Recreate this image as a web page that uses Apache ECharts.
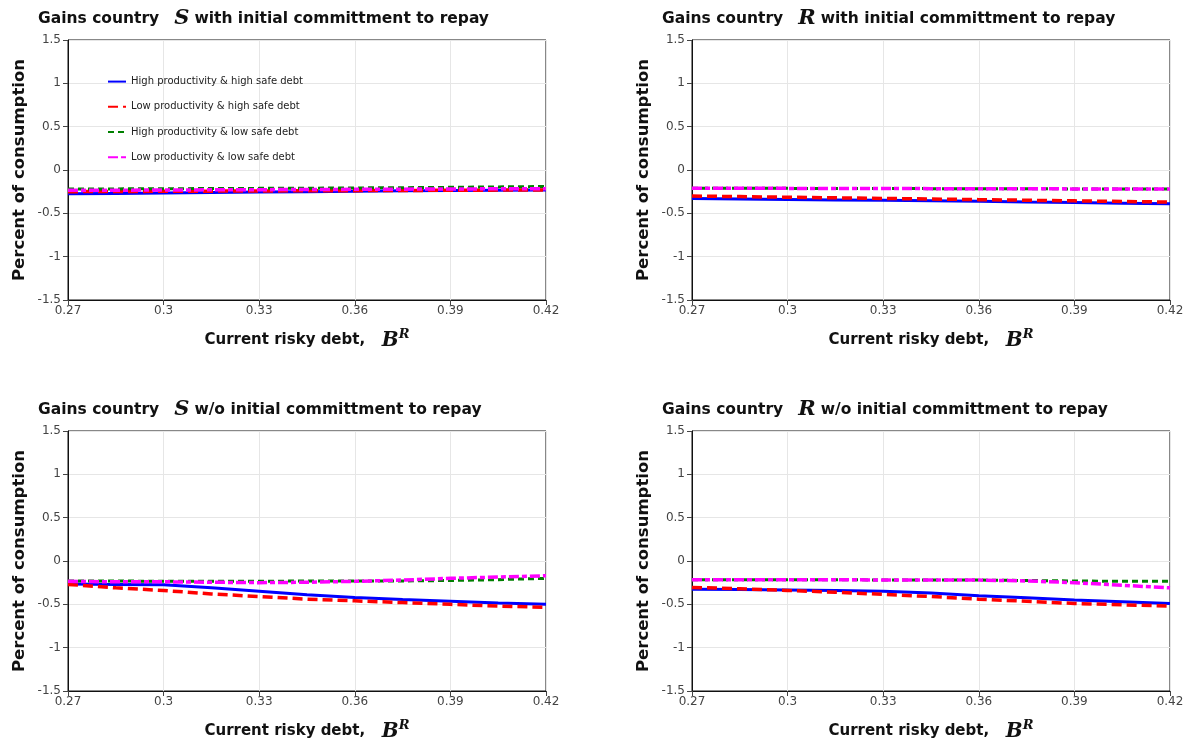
<!DOCTYPE html>
<html><head><meta charset="utf-8">
<script src="https://cdn.jsdelivr.net/npm/echarts@6/dist/echarts.min.js"></script>
<style>html,body{margin:0;padding:0;background:#fff}#c{width:1196px;height:746px}</style>
</head><body><div id="c"></div>
<script>
// ---- data ----
const xValues = [0.27, 0.285, 0.30, 0.315, 0.33, 0.345, 0.36, 0.375, 0.39, 0.405, 0.42];
const seriesNames = ['High productivity & high safe debt','Low productivity & high safe debt','High productivity & low safe debt','Low productivity & low safe debt'];
const xTicks = [0.27, 0.30, 0.33, 0.36, 0.39, 0.42];
const yTicks = [-1.5, -1, -0.5, 0, 0.5, 1, 1.5];

// Panel 1: S with initial commitment
const sWith_highProdHighSafe = [-0.275,-0.27,-0.265,-0.26,-0.255,-0.25,-0.245,-0.24,-0.237,-0.233,-0.23];
const sWith_lowProdHighSafe  = [-0.25,-0.248,-0.246,-0.244,-0.242,-0.24,-0.238,-0.236,-0.234,-0.232,-0.23];
const sWith_highProdLowSafe  = [-0.22,-0.218,-0.216,-0.214,-0.212,-0.21,-0.207,-0.204,-0.2,-0.195,-0.19];
const sWith_lowProdLowSafe   = [-0.235,-0.233,-0.231,-0.229,-0.227,-0.225,-0.223,-0.221,-0.219,-0.217,-0.215];
// Panel 2: R with initial commitment
const rWith_highProdHighSafe = [-0.33,-0.335,-0.34,-0.345,-0.35,-0.355,-0.36,-0.368,-0.375,-0.383,-0.39];
const rWith_lowProdHighSafe  = [-0.30,-0.307,-0.314,-0.321,-0.328,-0.335,-0.342,-0.349,-0.356,-0.363,-0.37];
const rWith_highProdLowSafe  = [-0.21,-0.211,-0.212,-0.213,-0.214,-0.215,-0.216,-0.217,-0.218,-0.219,-0.22];
const rWith_lowProdLowSafe   = [-0.21,-0.211,-0.212,-0.213,-0.214,-0.215,-0.216,-0.217,-0.218,-0.219,-0.22];
// Panel 3: S without initial commitment
const sWo_highProdHighSafe = [-0.265,-0.27,-0.275,-0.31,-0.35,-0.39,-0.42,-0.445,-0.465,-0.485,-0.50];
const sWo_lowProdHighSafe  = [-0.27,-0.31,-0.34,-0.38,-0.41,-0.44,-0.46,-0.48,-0.50,-0.52,-0.535];
const sWo_highProdLowSafe  = [-0.23,-0.23,-0.235,-0.235,-0.235,-0.23,-0.23,-0.23,-0.225,-0.215,-0.20];
const sWo_lowProdLowSafe   = [-0.235,-0.24,-0.24,-0.245,-0.25,-0.245,-0.235,-0.22,-0.20,-0.185,-0.17];
// Panel 4: R without initial commitment
const rWo_highProdHighSafe = [-0.325,-0.33,-0.335,-0.34,-0.35,-0.37,-0.40,-0.425,-0.45,-0.47,-0.49];
const rWo_lowProdHighSafe  = [-0.305,-0.32,-0.34,-0.36,-0.385,-0.41,-0.44,-0.465,-0.49,-0.505,-0.52];
const rWo_highProdLowSafe  = [-0.215,-0.215,-0.215,-0.215,-0.22,-0.22,-0.22,-0.225,-0.23,-0.235,-0.235];
const rWo_lowProdLowSafe   = [-0.215,-0.215,-0.215,-0.215,-0.22,-0.22,-0.22,-0.23,-0.25,-0.28,-0.31];

const panels = [
  {country:'S', suffix:'with initial committment to repay', data:[sWith_highProdHighSafe,sWith_lowProdHighSafe,sWith_highProdLowSafe,sWith_lowProdLowSafe]},
  {country:'R', suffix:'with initial committment to repay', data:[rWith_highProdHighSafe,rWith_lowProdHighSafe,rWith_highProdLowSafe,rWith_lowProdLowSafe]},
  {country:'S', suffix:'w/o initial committment to repay', data:[sWo_highProdHighSafe,sWo_lowProdHighSafe,sWo_highProdLowSafe,sWo_lowProdLowSafe]},
  {country:'R', suffix:'w/o initial committment to repay', data:[rWo_highProdHighSafe,rWo_lowProdHighSafe,rWo_highProdLowSafe,rWo_lowProdLowSafe]}
];

// ---- styles ----
const FONT = 'DejaVu Sans';
const colors = ['#0000ff','#ff0000','#008000','#ff00ff'];
const dashes = ['solid',[10,5],[6,4],[10,3,5,3]];
const widths = [3,3.5,3,3.5];
const gridPos = [
  {left:68, top:40}, {left:692, top:40}, {left:68, top:431}, {left:692, top:431}
];
const titlePos = [{left:33, top:3},{left:657, top:3},{left:33, top:394},{left:657, top:394}];

const option = {
  animation:false,
  backgroundColor:'#fff',
  title: panels.map((p,i)=>({
    left:titlePos[i].left, top:titlePos[i].top,
    text:'{t|Gains country}   {m|'+p.country+'} {t|'+p.suffix+'}',
    textStyle:{rich:{
      t:{fontFamily:FONT,fontWeight:'bold',fontSize:15.5,color:'#111'},
      m:{fontFamily:'DejaVu Serif',fontStyle:'italic',fontSize:21,color:'#111'}
    }}
  })),
  legend:{
    left:102, top:71, orient:'vertical', itemGap:11, itemWidth:18, itemHeight:14,
    data:seriesNames,
    itemStyle:{opacity:0},
    textStyle:{fontFamily:FONT,fontSize:10,color:'#222'}
  },
  grid: gridPos.map(g=>({left:g.left, top:g.top, width:478, height:260, show:true, borderColor:'#111', borderWidth:1, containLabel:false})),
  xAxis: gridPos.map((g,i)=>({
    gridIndex:i, type:'value', min:xTicks[0], max:xTicks[xTicks.length-1], interval:0.03,
    name:'{t|Current risky debt,}     {b|B}{s|R}', nameLocation:'middle', nameGap:28,
    nameTextStyle:{rich:{
      t:{fontFamily:FONT,fontWeight:'bold',fontSize:15,color:'#111'},
      b:{fontFamily:'DejaVu Serif',fontStyle:'italic',fontWeight:'bold',fontSize:20,color:'#111'},
      s:{fontFamily:'DejaVu Serif',fontStyle:'italic',fontWeight:'bold',fontSize:13,color:'#111',verticalAlign:'top',padding:[0,0,12,0]}
    }},
    axisLine:{onZero:false,lineStyle:{color:'#111'}},
    axisTick:{show:true,length:5,lineStyle:{color:'#444'}},
    axisLabel:{fontFamily:FONT,fontSize:12,color:'#444',margin:5,formatter:v=>String(+v.toFixed(2))},
    splitLine:{show:true,lineStyle:{color:'#e6e6e6',width:1}}
  })),
  yAxis: gridPos.map((g,i)=>({
    gridIndex:i, type:'value', min:yTicks[0], max:yTicks[yTicks.length-1], interval:0.5,
    name:'Percent of consumption', nameLocation:'middle', nameGap:40, nameRotate:90,
    nameTextStyle:{fontFamily:FONT,fontWeight:'bold',fontSize:16.5,color:'#111'},
    axisLine:{show:true,onZero:false,lineStyle:{color:'#111'}},
    axisTick:{show:true,length:5,lineStyle:{color:'#444'}},
    axisLabel:{fontFamily:FONT,fontSize:12,color:'#444',margin:7},
    splitLine:{show:true,lineStyle:{color:'#e6e6e6',width:1}}
  })),
  series: []
};
option.legend.itemGap = 11.2;
option.legend.itemHeight = 14;
option.legend.itemGap = 14 - 3;
option.legend.itemGap = 14;
panels.forEach((p,i)=>{
  p.data.forEach((arr,k)=>{
    option.series.push({
      name:seriesNames[k], type:'line', xAxisIndex:i, yAxisIndex:i,
      data:arr.map((y,j)=>[xValues[j],y]),
      showSymbol:false, symbol:'none',
      lineStyle:{color:colors[k],width:widths[k],type:dashes[k]},
      itemStyle:{color:colors[k]},
      z:2+k
    });
  });
});
const chart = echarts.init(document.getElementById('c'));
chart.setOption(option);
</script></body></html>
